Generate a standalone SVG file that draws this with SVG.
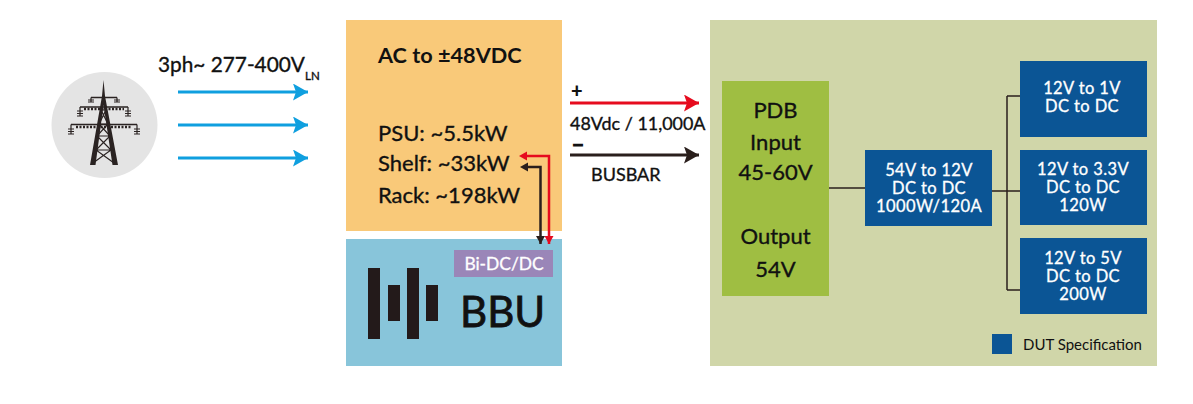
<svg xmlns="http://www.w3.org/2000/svg" width="1193" height="404" viewBox="0 0 1193 404">
<style>
text{font-family:Lato,"Noto Sans",sans-serif;fill:#111}
.w{fill:#fff;stroke:#fff;stroke-width:.3}
.n{font-size:16.500px;letter-spacing:.4px}
.b{fill:#0b5595}
.s{stroke:#111;stroke-width:.35}
.c{text-anchor:middle}
.l{fill:none;stroke:#2a1f1c;stroke-width:1.5}
.t{stroke:#2a2322;fill:none}
</style>
<defs>
<marker id="ab" markerUnits="userSpaceOnUse" markerWidth="16" markerHeight="18" refX="15" refY="8.500" orient="auto"><path d="M0 0L15 8.500L0 17L3 8.500Z" fill="#0f9fdf"/></marker>
<marker id="ar" markerUnits="userSpaceOnUse" markerWidth="16" markerHeight="18" refX="15" refY="8.500" orient="auto"><path d="M0 0L15 8.500L0 17L3 8.500Z" fill="#e60b1e"/></marker>
<marker id="ak" markerUnits="userSpaceOnUse" markerWidth="16" markerHeight="18" refX="15" refY="8.500" orient="auto"><path d="M0 0L15 8.500L0 17L3 8.500Z" fill="#2a1f1c"/></marker>
<marker id="sr" markerUnits="userSpaceOnUse" markerWidth="9" markerHeight="10" refX="8" refY="4.500" orient="auto"><path d="M0 0L8 4.500L0 9Z" fill="#e60b1e"/></marker>
<marker id="sk" markerUnits="userSpaceOnUse" markerWidth="9" markerHeight="10" refX="8" refY="4.500" orient="auto"><path d="M0 0L8 4.500L0 9Z" fill="#2a1f1c"/></marker>
</defs>

<g id="grid-source">
<circle cx="104.500" cy="125" r="53" fill="#e4e4e4"/>
<g id="tower">
<path d="M103.500 80L102 96L90 165H95.500L103.500 105L112.500 165H118L105 96Z" fill="#2a2322"/>
<path d="M101 110H106M106 110L99 124L110 136L96 150L114 163M101 110L108 124L97 136L111 150L93 163M98 124H109M97 136H111M95.500 150H112.500" class="t" stroke-width="1.200"/>
<path d="M91 97.500H117M80 107H128M71 124.500H137" class="t" stroke-width="1.600"/>
<path d="M84 109H124M76 127H132" class="t" stroke-width="2.500" stroke-dasharray="2 1.500"/>
<path d="M91 97.500V102M117 97.500V102M80 107V116M128 107V116M71 124.500V134M137 124.500V134" class="t" stroke-width="1.200"/>
<path d="M88 100H94M88 102H94M114 100H120M114 102H120M77 111H83M77 113.500H83M77 116H83M125 111H131M125 113.500H131M125 116H131M68 129H74M68 131.500H74M68 134H74M134 129H140M134 131.500H140M134 134H140" class="t" stroke-width="1"/>
</g>
</g>

<g id="input-label">
<text x="158" y="72" font-size="20.800" class="s">3ph~ 277-400V</text>
<text x="305" y="80" font-size="11.500" class="s">LN</text>
</g>

<g id="psu">
<rect x="346" y="20" width="216" height="211" fill="#f9c979"/>
<text x="378" y="63" font-size="21.700" font-weight="700">AC to ±48VDC</text>
<text x="378" y="141" font-size="22" class="s">PSU: ~5.5kW</text>
<text x="378" y="171" font-size="22" class="s">Shelf: ~33kW</text>
<text x="378" y="203" font-size="22" class="s">Rack: ~198kW</text>
</g>

<g id="bbu">
<rect x="346" y="239" width="216" height="127" fill="#88c5da"/>
<rect x="454" y="250" width="99" height="27" fill="#9a86b8"/>
<text x="504" y="270" font-size="17.400" class="w c">Bi-DC/DC</text>
<g fill="#231a1a">
<rect x="368" y="268" width="12" height="71"/>
<rect x="388" y="285" width="12" height="36"/>
<rect x="407" y="268" width="12" height="71"/>
<rect x="426" y="285" width="12" height="36"/>
</g>
<text x="460" y="327" font-size="42" class="s" style="stroke-width:.8">BBU</text>
</g>

<g id="busbar-labels">
<text x="571" y="98" font-size="20" font-weight="900">+</text>
<text x="570" y="130" font-size="17.900" class="s">48Vdc / 11,000A</text>
<text x="572" y="150" font-size="16" font-weight="900" stroke="#111" stroke-width=".8" textLength="12" lengthAdjust="spacingAndGlyphs">-</text>
<text x="591" y="181" font-size="18" class="s">BUSBAR</text>
</g>

<g id="pdb-panel">
<rect x="710" y="20" width="447" height="346" fill="#d0d6a9"/>
</g>

<g id="pdb">
<rect x="722" y="81" width="107" height="215" fill="#9fbe42"/>
<g font-size="22">
<text x="775.500" y="118" class="c s">PDB</text>
<text x="775.500" y="150" class="c s">Input</text>
<text x="775.500" y="180" class="c s">45-60V</text>
<text x="775.500" y="244" class="c s">Output</text>
<text x="775.500" y="277" class="c s">54V</text>
</g>
</g>

<g id="converter-54-12">
<rect x="865" y="150" width="127" height="76" class="b"/>
<text x="929" y="176" class="w c n">54V to 12V</text>
<text x="929" y="194" class="w c n">DC to DC</text>
<text x="929" y="212" class="w c n">1000W/120A</text>
</g>
<g id="converter-12-1">
<rect x="1020" y="61" width="127" height="76" class="b"/>
<text x="1082" y="94" class="w c n">12V to 1V</text>
<text x="1082" y="112" class="w c n">DC to DC</text>
</g>
<g id="converter-12-3v3">
<rect x="1020" y="150" width="127" height="75" class="b"/>
<text x="1083" y="175" class="w c n">12V to 3.3V</text>
<text x="1083" y="193" class="w c n">DC to DC</text>
<text x="1083" y="211" class="w c n">120W</text>
</g>
<g id="converter-12-5">
<rect x="1020" y="238" width="127" height="76" class="b"/>
<text x="1083" y="264" class="w c n">12V to 5V</text>
<text x="1083" y="282" class="w c n">DC to DC</text>
<text x="1083" y="300" class="w c n">200W</text>
</g>

<g id="legend">
<rect x="992" y="334" width="20" height="20" class="b"/>
<text x="1023" y="350" font-size="15">DUT Specification</text>
</g>

<g id="connectors" fill="none">
<path d="M178 92H308" stroke="#0f9fdf" stroke-width="3" marker-end="url(#ab)"/>
<path d="M178 125H308" stroke="#0f9fdf" stroke-width="3" marker-end="url(#ab)"/>
<path d="M178 158H308" stroke="#0f9fdf" stroke-width="3" marker-end="url(#ab)"/>
<path d="M570 103H699" stroke="#e60b1e" stroke-width="3" marker-end="url(#ar)"/>
<path d="M570 155H699" stroke="#2a1f1c" stroke-width="3" marker-end="url(#ak)"/>
<path d="M524 156H549V244" stroke="#e60b1e" stroke-width="2.500" marker-end="url(#sr)"/>
<path d="M524 167H540.500V244" stroke="#2a1f1c" stroke-width="2.500" marker-end="url(#sk)"/>
<path d="M519 156l8-4.500v9Z" fill="#e60b1e"/>
<path d="M520 167l8-4.500v9Z" fill="#2a1f1c"/>
<path d="M829 188H865" class="l"/>
<path d="M992 191H1020M1007 96V290M1007 96H1020M1007 290H1020" class="l"/>
</g>
</svg>
